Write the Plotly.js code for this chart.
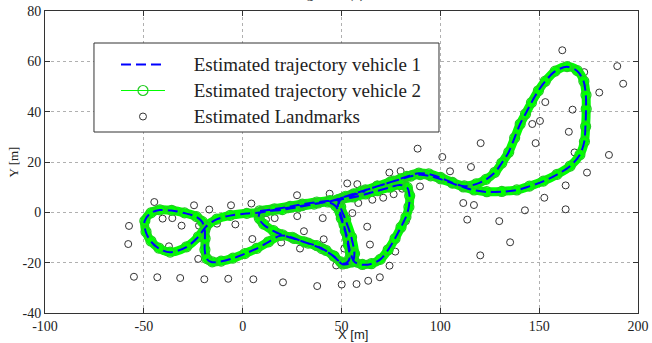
<!DOCTYPE html>
<html><head><meta charset="utf-8">
<script src="https://cdn.plot.ly/plotly-3.0.1.min.js"></script>
<style>html,body{margin:0;padding:0;background:#fff}#chart{width:652px;height:343px}</style>
</head><body><div id="chart"></div>
<script>
// Estimated trajectory of vehicle 1 (waypoints)
const veh1X = [8.8,16,23.9,30,37.4,44,50,56,62,68,74.5,79.5, 83.2,84.4,84,82.5,80,77,73.5,69.5,65,60.5,56.5,54.5,53,51.2,49.5,48.2, 50.5,56,62,68,74.5,80,85,89.7,95,100,106,111.6,117,123.4,131,138.6,145,152,159,165.6, 170.5,172.8,173.4,173.7,173.6,172.5,169.2,164,158,153,149.5,146,143,140.3,137.5,134.5,131,127.5,123,118, 112,106,100,94,89,83,76,68,60,52,44.5,38,30,23,15,8.5,2,-6.4,-13.2,-18.7, -22.5,-28.5,-36.8,-42.5,-46.5,-49,-49.6,-46.5,-42,-36,-29.5,-23.5,-20.5,-19.2,-19.1,-19.2,-18.2,-15.5,-11,-5, 1,7.1,13,19,25,31,37.4,42,46,49.5,52,54,53.3,51.8,49.8,47,43,36,28,20, 12,8.5,8.3,10.5,15.5,20,26,33,40,46.2,50.5,55.5,56.5,55,52,49.5,48.5,55,62];
const veh1Y = [0.5,1.3,2.3,3.2,4.0,4.6,5.2,6.0,7.2,8.5,9.9,10.9, 9.8,6.5,2,-2,-6,-10.5,-15,-18.8,-20.5,-20.8,-19.6,-16,-10.5,-5,-0.5,3, 5.6,7.2,8.8,10.3,11.9,13.2,14.3,14.9,14.4,13.2,11.5,10,8.8,8.1,8.2,8.8,10.3,12.3,15,18.3, 22.8,28,34,41,46.5,52,56.2,57.8,56,52,48.2,43.5,39,35,29.5,23.8,19.5,15.8,13,11.2, 10.4,11.8,13.8,15.2,15.5,14.2,12.3,10.3,8.3,6.3,4.4,3.6,2.6,1.8,0.8,-0.1,-0.5,-1.3,-2.8,-5.8, -9.8,-13.8,-15.9,-14.3,-11.5,-7.8,-3.5,-0.3,0.9,0.7,-0.3,-1.8,-3.8,-7,-10.5,-15,-18.5,-19.8,-19.5,-18.3, -16.5,-14.4,-11.8,-9.3,-10,-11.8,-13.3,-15.2,-17.5,-19.8,-20.3,-18.5,-13,-7.5,-2.5,2.5,4,3.2,2.1,1, 0.4,-0.5,-2.5,-4.8,-7.4,-9,-10.5,-12.3,-14.5,-17.5,-20.6,-19.8,-16.5,-10,-3,2,5,6.6,8.4];
// Estimated trajectory of vehicle 2
const veh2X = [8.6,16.1,24,30.2,37.5,44.1,50.1,56.1,62.2,68.1,74.6,79.6, 83.3,84.5,84.1,82.6,80.1,77.1,73.6,69.6,65.1,60.6,56.6,54.6,53.1,51.3,49.6,48.3, 50.6,56.1,62.1,68.1,74.6,80.1,85.1,89.8,95.1,100.1,106.1,111.7,117.1,123.5,131.1,138.7,145.1,152.1,159.1,165.7, 170.6,172.9,173.5,173.8,173.7,172.6,169.3,164.1,158.1,153.1,149.6,146.1,143.1,140.4,137.6,134.6,131.1,127.6,123.1,118.1, 112.1,106.1,100.1,94.1,89.1,83.1,76.1,68.1,60.1,52.1,44.6,38.1,30.1,23.1,15.1,8.6,2.1,-6.3,-13.1,-18.6, -22.4,-28.4,-36.7,-42.4,-46.4,-48.9,-49.5,-46.4,-41.9,-35.9,-29.4,-23.4,-20.4,-19.1,-19,-19.1,-18.1,-15.4,-10.9,-4.9, 1.1,7.2,13.1,19.1,25.1,31.1,37.5,42.1,46.1,49.6,52.1,54.1,53.4,51.9,49.9,47.1,43.1,36.1,28.1,20.1, 12.1,8.6,8.4,10.6,15.6,20.1,26.1,33.1,40.1,46.3,50.6,55.6,56.6,55.1,52.1,49.6,48.6,55.1,62.1];
const veh2Y = [0.6,1.4,2.4,3.3,4.1,4.7,5.3,6.1,7.3,8.6,10,11, 9.9,6.6,2.1,-1.9,-5.9,-10.4,-14.9,-18.7,-20.4,-20.7,-19.5,-15.9,-10.4,-4.9,-0.4,3.1, 5.7,7.3,8.9,10.4,12,13.3,14.4,15,14.5,13.3,11.6,10.1,8.9,8.2,8.3,8.9,10.4,12.4,15.1,18.4, 22.9,28.1,34.1,41.1,46.6,52.1,56.3,57.9,56.1,52.1,48.3,43.6,39.1,35.1,29.6,23.9,19.6,15.9,13.1,11.3, 10.5,11.9,13.9,15.3,15.6,14.3,12.4,10.4,8.4,6.4,4.5,3.7,2.7,1.9,0.9,0,-0.4,-1.2,-2.7,-5.7, -9.7,-13.7,-15.8,-14.2,-11.4,-7.7,-3.4,-0.2,1,0.8,-0.2,-1.7,-3.7,-6.9,-10.4,-14.9,-18.4,-19.7,-19.4,-18.2, -16.4,-14.3,-11.7,-9.2,-9.9,-11.7,-13.2,-15.1,-17.4,-19.7,-20.2,-18.4,-12.9,-7.4,-2.4,2.6,4.1,3.3,2.2,1.1, 0.5,-0.4,-2.4,-4.7,-7.3,-8.9,-10.4,-12.2,-14.4,-17.4,-20.5,-19.7,-16.4,-9.9,-2.9,2.1,5.1,6.7,8.5];
// Estimated landmarks
const lmX = [-44.7,-24.6,-16.9,-5.9,4.4,-57.5,-40.5,-35.6,-30.9,-22.1,-13,-3.7,11.8,16.2,-57.9,-37.3,4.9,19.5,-22.5,-55,-43.2,-31.6,-19.4,-7.3,5.4,20.4,88.5,101,74.2,79.9,52.9,58,27.5,44,58.5,65.6,71.1,76.4,80.7,89.7,55.5,27.6,40.5,82.6,63,31,41,29,64.4,51.4,77.2,47.3,74.3,69.4,63.5,57.6,50.1,37.7,161.7,172.8,189.5,192.5,180.4,153.1,166.9,146.5,150.4,165,148.2,120.4,167.9,185.3,115.5,104.9,174.2,163.4,152.6,111.6,117,142.8,163.4,113.6,129.8,120.2,135.3];
const lmY = [4.1,2.8,1.1,2.8,3.5,-5.4,-2.5,-2.3,-5.3,-5.3,-4.5,-4.8,-2.9,-2.3,-12.6,-13.5,-10.6,-12,-18.5,-25.6,-25.8,-26.1,-26.6,-26.4,-26.6,-27.8,25.3,22,15.8,16.4,11.5,11.2,6.8,7.4,3.7,5,5.8,7.2,9.4,10.3,-0.3,-1.5,-2.3,-3.5,-5.7,-7.5,-10.7,-14.4,-12.8,-14.4,-15.6,-21.1,-21.2,-25.8,-27.2,-28.5,-28.7,-29.3,64.4,55.7,58.1,51.1,47.6,43.8,40.8,35.1,36.3,32,27.5,27.5,23.8,22.8,18,16.3,15.8,10.7,5.8,3.7,2.9,0.8,1.2,-2.9,-3.5,-17.1,-11.9];

const seriesNames = ['Estimated trajectory vehicle 1','Estimated trajectory vehicle 2','Estimated Landmarks'];
const xTicks = [-100,-50,0,50,100,150,200];
const yTicks = [-40,-20,0,20,40,60,80];
const titleText = 'Figure 5 (a)';
const xTitle = 'X [m]';
const yTitle = 'Y [m]';

const serif = 'Liberation Serif';
const sans = 'Liberation Sans';
const pad = '\u00a0\u00a0\u00a0\u00a0\u00a0';
const legName = n => '<span style="font-size:19px">' + pad + n + '</span>';

const traces = [
  {x: lmX, y: lmY, type: 'scatter', mode: 'markers', name: legName(seriesNames[2]), legendrank: 3,
   marker: {symbol: 'circle-open', size: 7, color: '#333', line: {width: 1, color: '#333'}}},
  {x: veh2X, y: veh2Y, type: 'scatter', mode: 'lines', showlegend: false, hoverinfo: 'skip',
   line: {color: '#00ff00', width: 9, shape: 'spline', smoothing: 0.9}},
  {x: veh2X, y: veh2Y, type: 'scatter', mode: 'lines+markers', name: legName(seriesNames[1]), legendrank: 2,
   line: {color: '#00ff00', width: 1, shape: 'spline', smoothing: 0.9},
   marker: {symbol: 'circle-open', size: 10, color: '#22cc22', line: {width: 1.2, color: '#22cc22'}}},
  {x: veh1X, y: veh1Y, type: 'scatter', mode: 'lines', name: legName(seriesNames[0]), legendrank: 1,
   line: {color: '#0000ff', width: 2, dash: '10px,5px', shape: 'spline', smoothing: 0.9}}
];

const axisCommon = {
  showline: true, linecolor: '#333', linewidth: 1, mirror: 'ticks',
  ticks: 'inside', ticklen: 5, tickcolor: '#333', tickwidth: 1,
  showgrid: true, gridcolor: '#b0b0b0', griddash: 'dot', gridwidth: 1,
  zeroline: false, tickfont: {family: serif, size: 14, color: '#222'}
};

const layout = {
  width: 652, height: 343,
  margin: {l: 45, r: 14, t: 11, b: 30},
  paper_bgcolor: '#fff', plot_bgcolor: '#fff',
  showlegend: true,
  legend: {x: 0.1197, y: 0.8825, xanchor: 'left', yanchor: 'top', bgcolor: 'rgba(0,0,0,0)',
    borderwidth: 0, font: {family: serif, size: 17.7, color: '#222'}, itemwidth: 44},
  xaxis: Object.assign({}, axisCommon, {range: [-100, 200], tickvals: xTicks, ticktext: xTicks.map(String)}),
  yaxis: Object.assign({}, axisCommon, {range: [-40, 80], tickvals: yTicks, ticktext: yTicks.map(String),
    title: {text: yTitle, font: {family: serif, size: 13, color: '#222'}, standoff: 0}}),
  shapes: [{type: 'rect', xref: 'paper', yref: 'paper', x0: 0.0826, x1: 0.6644, y0: 0.5993, y1: 0.894,
    line: {color: '#333', width: 1}, fillcolor: '#fff', layer: 'above'}],
  annotations: [
    {text: titleText, xref: 'paper', yref: 'paper', x: 0.48, y: 1, xanchor: 'center', yanchor: 'bottom',
     yshift: 7, showarrow: false, font: {family: serif, size: 15, color: '#222'}},
    {text: xTitle, xref: 'paper', yref: 'paper', x: 0.519, y: 0, xanchor: 'center', yanchor: 'bottom',
     yshift: -30, borderpad: 0, showarrow: false, font: {family: sans, size: 13, color: '#222'}}
  ]
};

Plotly.newPlot('chart', traces, layout, {displayModeBar: false, staticPlot: true});
</script></body></html>
